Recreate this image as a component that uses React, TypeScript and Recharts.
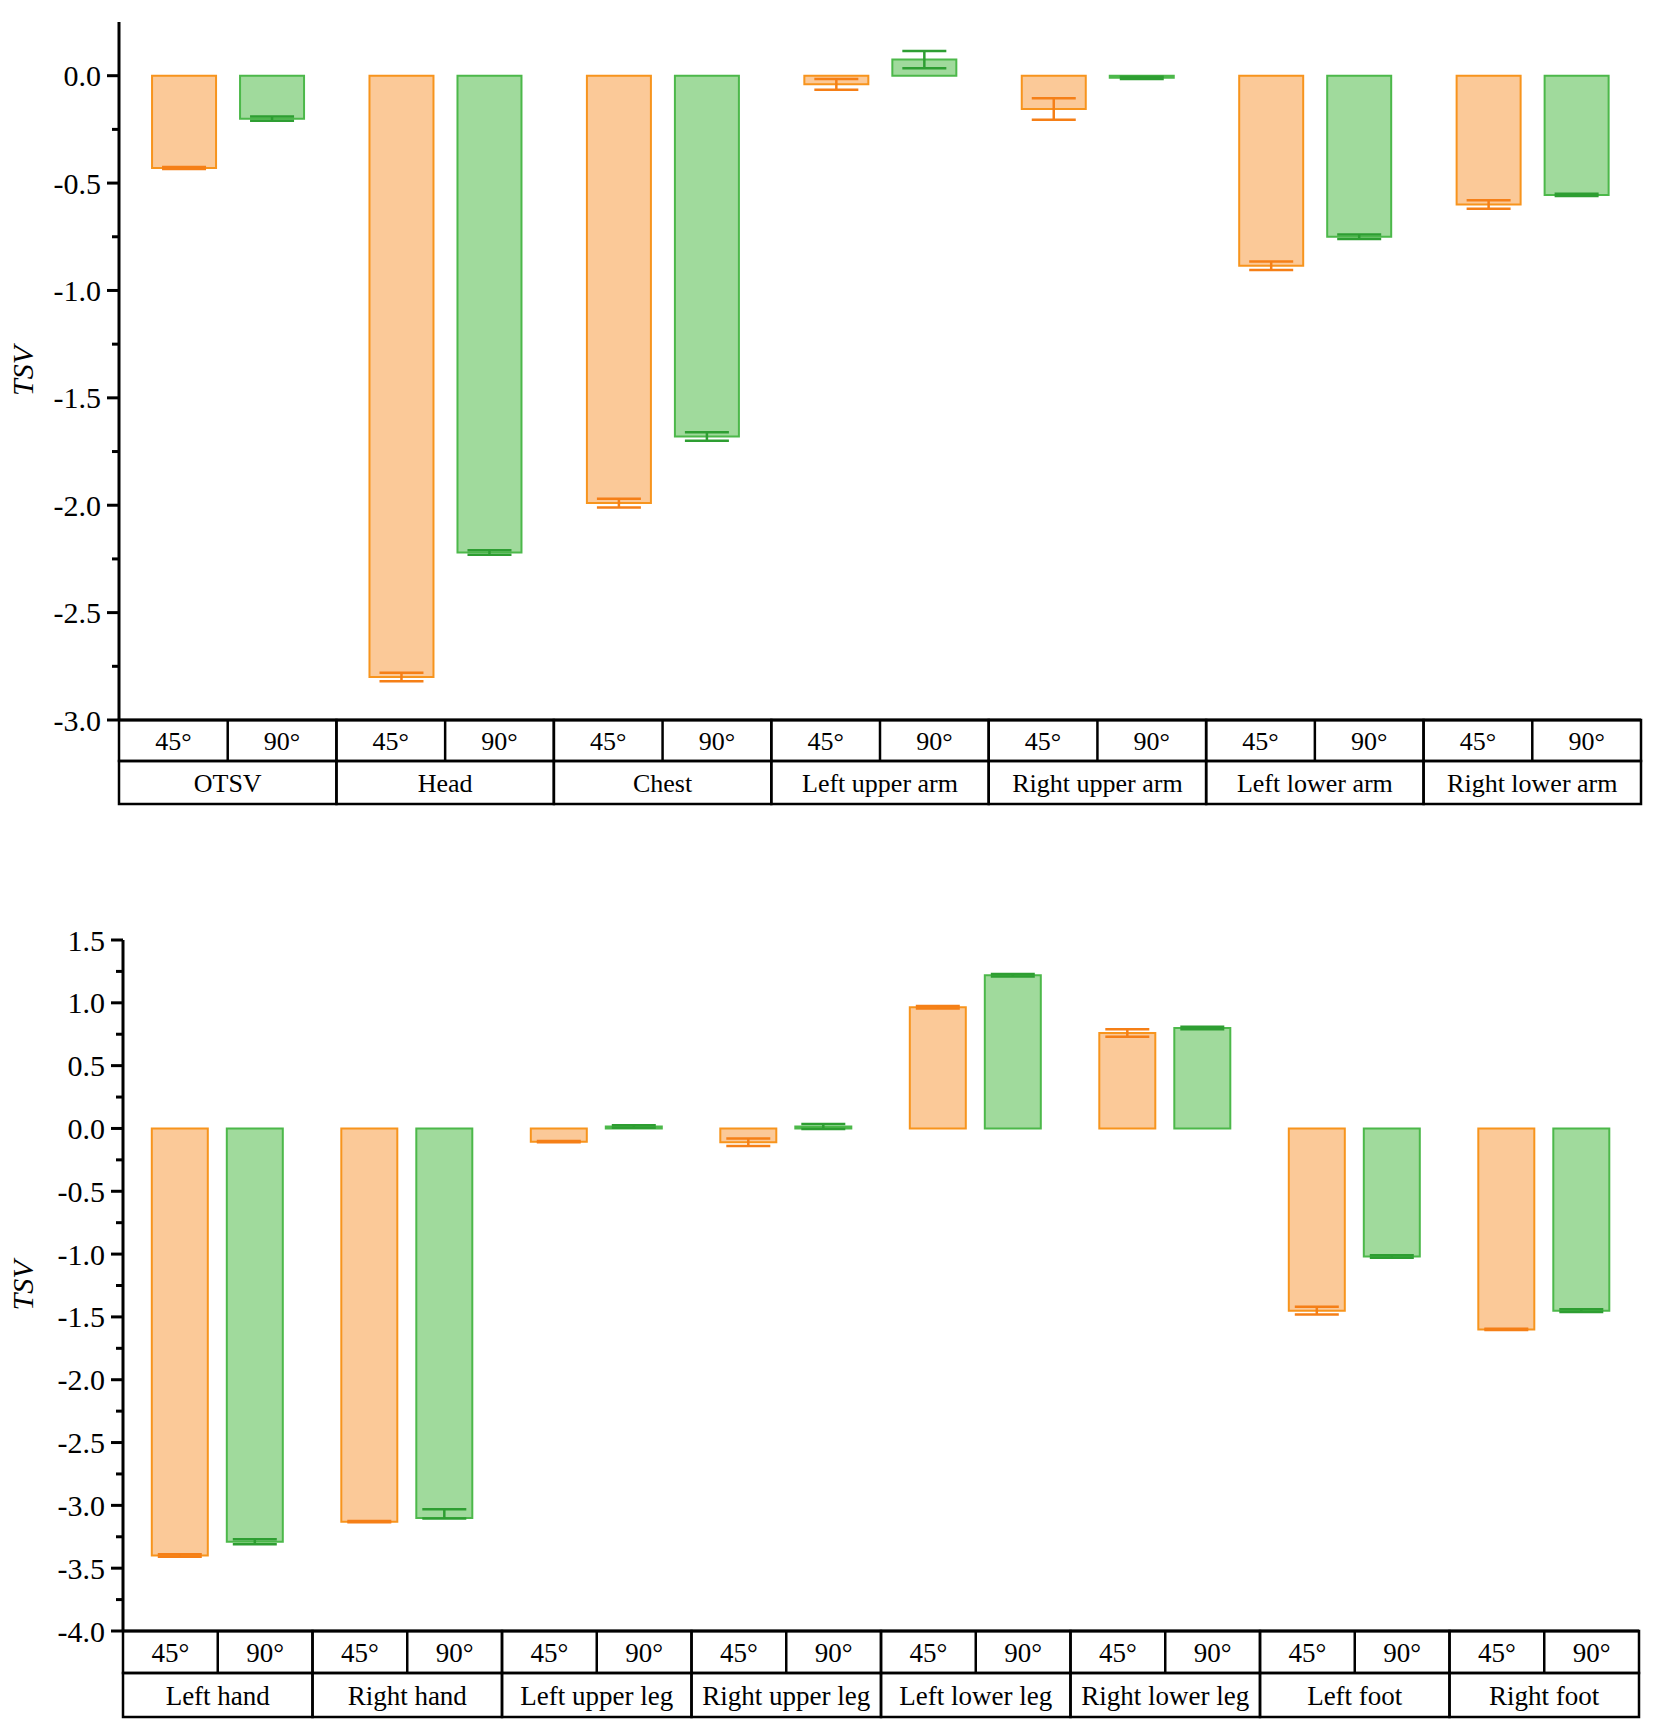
import React from 'react'
import { BarChart, Bar, XAxis, YAxis, ErrorBar } from 'recharts'

// upper panel
const upperParts = ['OTSV', 'Head', 'Chest', 'Left upper arm', 'Right upper arm', 'Left lower arm', 'Right lower arm']
const upper45 = [-0.43, -2.8, -1.99, -0.04, -0.155, -0.885, -0.6]
const upper45Err = [0.005, 0.02, 0.02, 0.025, 0.05, 0.02, 0.02]
const upper90 = [-0.2, -2.22, -1.68, 0.075, -0.01, -0.75, -0.555]
const upper90Err = [0.01, 0.01, 0.02, 0.04, 0.005, 0.01, 0.005]
const upperTicks = [-3, -2.75, -2.5, -2.25, -2, -1.75, -1.5, -1.25, -1, -0.75, -0.5, -0.25, 0]

// lower panel
const lowerParts = ['Left hand', 'Right hand', 'Left upper leg', 'Right upper leg', 'Left lower leg', 'Right lower leg', 'Left foot', 'Right foot']
const lower45 = [-3.4, -3.13, -0.105, -0.11, 0.965, 0.76, -1.45, -1.6]
const lower45Err: (number | number[])[] = [0.01, 0.005, 0.005, 0.03, 0.01, 0.03, 0.03, 0.005]
const lower90 = [-3.29, -3.1, 0.015, 0.015, 1.22, 0.8, -1.02, -1.45]
const lower90Err: (number | number[])[] = [0.02, [0.005, 0.07], 0.01, 0.02, 0.01, 0.01, 0.01, 0.01]
const lowerTicks = [-4, -3.75, -3.5, -3.25, -3, -2.75, -2.5, -2.25, -2, -1.75, -1.5, -1.25, -1, -0.75, -0.5, -0.25, 0, 0.25, 0.5, 0.75, 1, 1.25, 1.5]

const angles = ['45°', '90°']

const FONT = '"Liberation Serif", "Times New Roman", serif'
const ORANGE = '#F7941D'
const ORANGE_FILL = '#FBC998'
const ORANGE_ERR = '#F57F17'
const GREEN = '#4CB84A'
const GREEN_FILL = '#A0DA9C'
const GREEN_ERR = '#2E9E32'

const build = (parts: string[], a: number[], ae: any[], b: number[], be: any[]) =>
  parts.map((name, i) => ({ name, a45: a[i], e45: ae[i], a90: b[i], e90: be[i] }))

function YTick(props: any) {
  const { x, y, payload, fontSize } = props
  const v = payload.value as number
  const major = Math.abs(v * 2 - Math.round(v * 2)) < 1e-6
  return (
    <g>
      <line x1={x} x2={x - (major ? 12 : 7)} y1={y} y2={y} stroke="#000" strokeWidth={3} />
      {major && (
        <text x={x - 18} y={y} textAnchor="end" dominantBaseline="central" fontSize={fontSize} style={{ fontFamily: FONT }} fill="#000">
          {v.toFixed(1)}
        </text>
      )}
    </g>
  )
}

function TableTick(props: any) {
  const { x, y, payload, bandWidth, row1, row2, fontSize } = props
  const left = x - bandWidth / 2
  return (
    <g>
      <rect x={left} y={y} width={bandWidth} height={row1} fill="none" stroke="#000" strokeWidth={2.5} />
      <line x1={x} x2={x} y1={y} y2={y + row1} stroke="#000" strokeWidth={2.5} />
      <rect x={left} y={y + row1} width={bandWidth} height={row2} fill="none" stroke="#000" strokeWidth={2.5} />
      {angles.map((a, i) => (
        <text
          key={a}
          x={x + (i === 0 ? -bandWidth / 4 : bandWidth / 4)}
          y={y + row1 / 2 + 1}
          textAnchor="middle"
          dominantBaseline="central"
          fontSize={fontSize}
          style={{ fontFamily: FONT }}
          fill="#000"
        >
          {a}
        </text>
      ))}
      <text x={x} y={y + row1 + row2 / 2 + 1} textAnchor="middle" dominantBaseline="central" fontSize={fontSize} style={{ fontFamily: FONT }} fill="#000">
        {payload.value}
      </text>
    </g>
  )
}

function TsvLabel(props: any) {
  const { viewBox, cx } = props
  const cy = viewBox.y + viewBox.height / 2
  return (
    <text
      x={cx}
      y={cy}
      transform={`rotate(-90 ${cx} ${cy})`}
      textAnchor="middle"
      dominantBaseline="central"
      fontSize={30}
      fontStyle="italic"
      style={{ fontFamily: FONT }}
      fill="#000"
    >
      TSV
    </text>
  )
}

function Panel({
  data,
  ticks,
  domain,
  height,
  margin,
  yWidth,
  tableHeight,
  row1,
  row2,
  barGap,
  tickFont,
  tableFont,
}: any) {
  const plotWidth = 1654 - yWidth - margin.right
  const bandWidth = plotWidth / data.length
  return (
    <BarChart
      width={1654}
      height={height}
      data={data}
      margin={{ top: margin.top, right: margin.right, bottom: margin.bottom, left: 0 }}
      barCategoryGap="15.2%"
      barGap={barGap}
    >
      <XAxis
        dataKey="name"
        interval={0}
        height={tableHeight}
        tickSize={0}
        tickMargin={0}
        tickLine={false}
        axisLine={{ stroke: '#000', strokeWidth: 3 }}
        tick={<TableTick bandWidth={bandWidth} row1={row1} row2={row2} fontSize={tableFont} />}
      />
      <XAxis xAxisId="top" dataKey="name" orientation="top" height={0} tick={false} tickLine={false} axisLine={{ stroke: '#000', strokeWidth: 3.5 }} />
      <YAxis
        domain={domain}
        ticks={ticks}
        interval={0}
        allowDataOverflow
        width={yWidth}
        tickSize={0}
        tickMargin={0}
        tickLine={false}
        axisLine={{ stroke: '#000', strokeWidth: 3 }}
        tick={<YTick fontSize={tickFont} />}
        label={<TsvLabel cx={22} />}
      />
      <YAxis yAxisId="right" orientation="right" domain={domain} width={0} tick={false} tickLine={false} axisLine={{ stroke: '#000', strokeWidth: 3 }} />
      <Bar dataKey="a45" fill={ORANGE_FILL} stroke={ORANGE} strokeWidth={2} isAnimationActive={false}>
        <ErrorBar dataKey="e45" width={22} stroke={ORANGE_ERR} strokeWidth={2.5} direction="y" />
      </Bar>
      <Bar dataKey="a90" fill={GREEN_FILL} stroke={GREEN} strokeWidth={2} isAnimationActive={false}>
        <ErrorBar dataKey="e90" width={22} stroke={GREEN_ERR} strokeWidth={2.5} direction="y" />
      </Bar>
    </BarChart>
  )
}

export default function App() {
  const upperData = build(upperParts, upper45, upper45Err, upper90, upper90Err)
  const lowerData = build(lowerParts, lower45, lower45Err, lower90, lower90Err)
  return (
    <div style={{ position: 'absolute', left: 0, top: 0, width: 1654, height: 1731, background: '#fff' }}>
      <div style={{ position: 'absolute', left: 0, top: 0 }}>
        <Panel
          data={upperData}
          ticks={upperTicks}
          domain={[-3, 0.25]}
          height={830}
          margin={{ top: 22, right: 13, bottom: 26 }}
          yWidth={119}
          tableHeight={84}
          row1={41}
          row2={43}
          barGap={24}
          tickFont={30}
          tableFont={26}
        />
      </div>
      <div style={{ position: 'absolute', left: 0, top: 900 }}>
        <Panel
          data={lowerData}
          ticks={lowerTicks}
          domain={[-4, 1.5]}
          height={831}
          margin={{ top: 40, right: 15, bottom: 14 }}
          yWidth={123}
          tableHeight={86}
          row1={42}
          row2={44}
          barGap={19}
          tickFont={30}
          tableFont={27}
        />
      </div>
    </div>
  )
}
